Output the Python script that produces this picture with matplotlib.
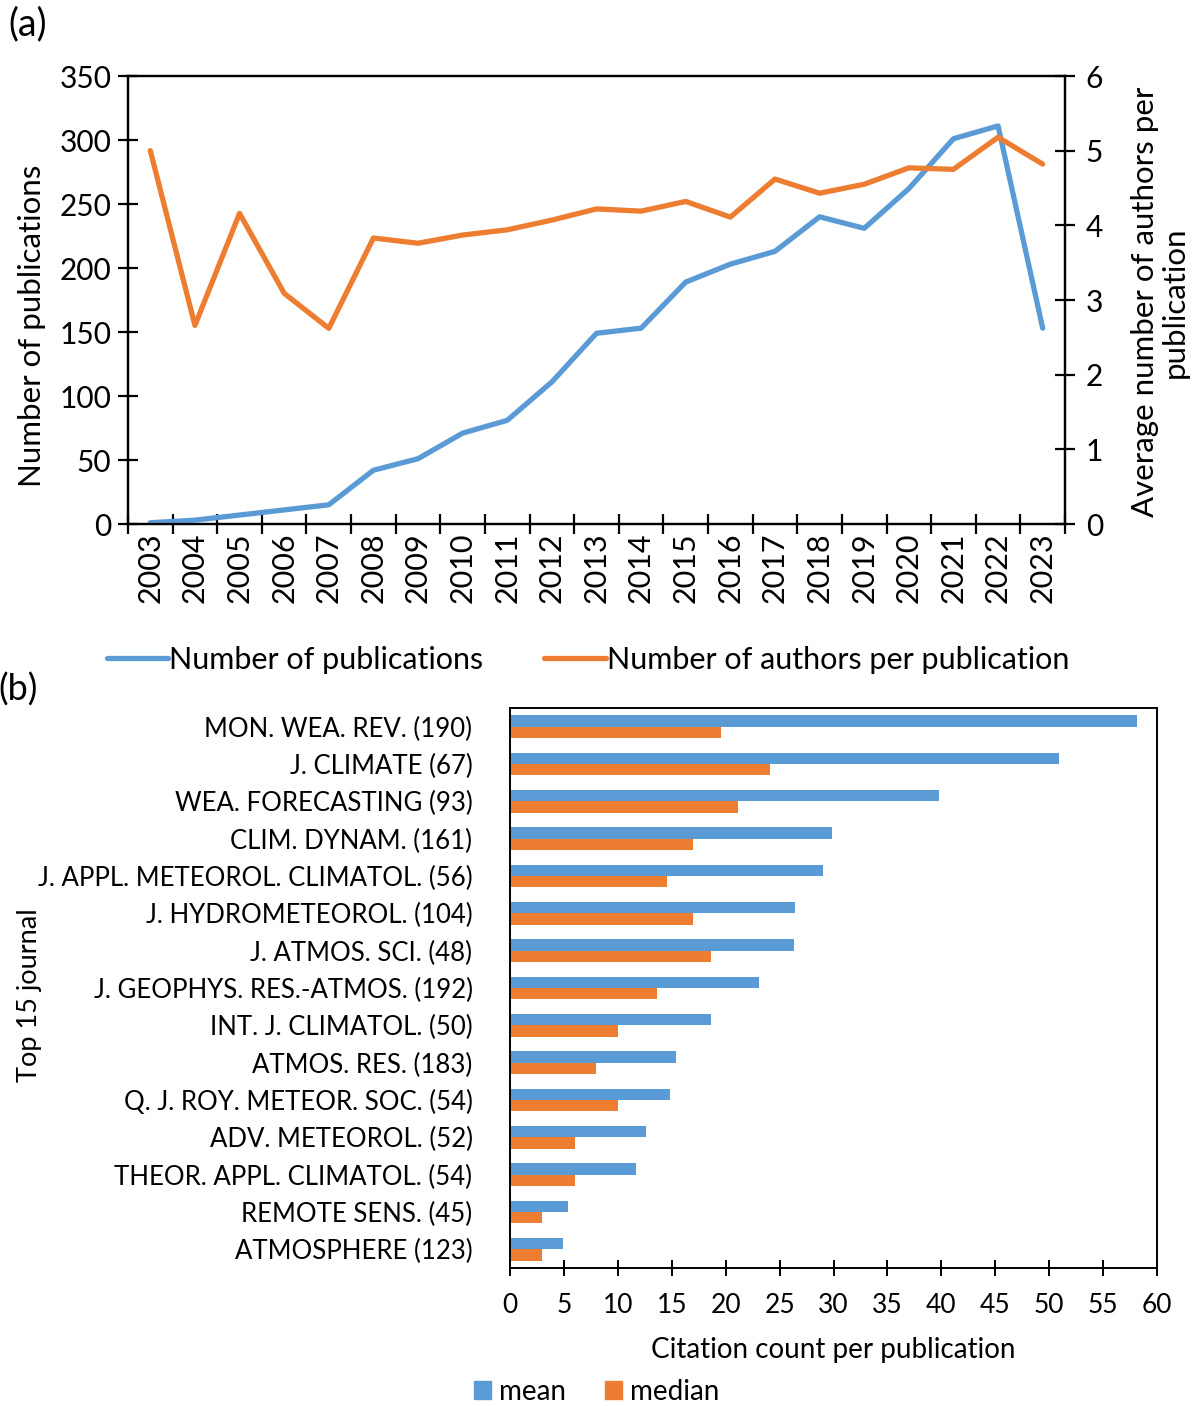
import matplotlib
matplotlib.use("Agg")
import matplotlib.pyplot as plt
from matplotlib.lines import Line2D
from matplotlib.patches import Patch
import numpy as np

plt.rcParams['font.family'] = ['Lato', 'DejaVu Sans']

# ---------------- data ----------------
years = [str(y) for y in range(2003, 2024)]
n_publications = [1, 3, 7, 11, 15, 42, 51, 71, 81, 111, 149, 153, 189, 203, 213,
                  240, 231, 262, 301, 311, 153]
authors_per_pub = [5.0, 2.66, 4.16, 3.09, 2.62, 3.83, 3.76, 3.87, 3.94, 4.07, 4.22,
                   4.19, 4.32, 4.11, 4.62, 4.43, 4.55, 4.77, 4.75, 5.18, 4.82]

journals = ["MON. WEA. REV. (190)", "J. CLIMATE (67)", "WEA. FORECASTING (93)",
            "CLIM. DYNAM. (161)", "J. APPL. METEOROL. CLIMATOL. (56)",
            "J. HYDROMETEOROL. (104)", "J. ATMOS. SCI. (48)",
            "J. GEOPHYS. RES.-ATMOS. (192)", "INT. J. CLIMATOL. (50)",
            "ATMOS. RES. (183)", "Q. J. ROY. METEOR. SOC. (54)",
            "ADV. METEOROL. (52)", "THEOR. APPL. CLIMATOL. (54)",
            "REMOTE SENS. (45)", "ATMOSPHERE (123)"]
cit_mean = [58.1, 50.9, 39.8, 29.9, 29.0, 26.4, 26.3, 23.1, 18.6, 15.4, 14.8,
            12.6, 11.7, 5.4, 4.9]
cit_median = [19.6, 24.1, 21.1, 17.0, 14.6, 17.0, 18.6, 13.6, 10.0, 8.0, 10.0,
              6.0, 6.0, 3.0, 3.0]

BLUE = "#5B9BD5"
ORANGE = "#ED7D31"
W, H = 1195, 1406

fig = plt.figure(figsize=(W / 100, H / 100), dpi=100)

def frac(l, t, r, b):
    return [l / W, 1 - b / H, (r - l) / W, (b - t) / H]

def fx(px):
    return px / W

def fy(py):
    return 1 - py / H

# ---------------- panel (a) ----------------
ax = fig.add_axes(frac(128, 76, 1065, 524))
ax2 = ax.twinx()
x = np.arange(len(years))
ax.plot(x, n_publications, color=BLUE, lw=3.8, solid_capstyle='round', zorder=3)
ax2.plot(x, authors_per_pub, color=ORANGE, lw=3.8, solid_capstyle='round', zorder=3)

ax.set_xlim(-0.5, len(years) - 0.5)
ax.set_ylim(0, 350)
ax.set_yticks(np.arange(0, 351, 50))
ax2.set_ylim(0, 6)
ax2.set_yticks(np.arange(0, 7, 1))
ax.set_xticks(x)
ax.set_xticklabels(years, rotation=90, fontsize=22)
ax.set_xticks(np.arange(-0.5, len(years), 1), minor=True)
ax.tick_params(axis='x', which='major', length=0, pad=6)
ax.tick_params(axis='x', which='minor', direction='inout', length=14, width=1.6)
ax.tick_params(axis='y', direction='inout', length=14, width=1.6, labelsize=21.5, pad=5)
ax2.tick_params(axis='y', direction='inout', length=14, width=1.6, labelsize=21.5, pad=8)
for a in (ax, ax2):
    for s in a.spines.values():
        s.set_linewidth(1.6)

fig.text(fx(32), fy(326), "Number of publications", fontsize=22.5, rotation=90,
         ha='center', va='center')
fig.text(fx(1160), fy(302), "Average number of authors per\npublication",
         fontsize=22.5, rotation=90, ha='center', va='center', linespacing=1.05,
         multialignment='center')

fig.text(fx(8), fy(24), "(a)", fontsize=27, va='center', ha='left')
fig.text(fx(-2), fy(690), "(b)", fontsize=26, va='center', ha='left')

handles_a = [Line2D([], [], color=BLUE, lw=3.8, solid_capstyle='round'),
             Line2D([], [], color=ORANGE, lw=3.8, solid_capstyle='round')]
fig.legend(handles_a, ["Number of publications", "Number of authors per publication"],
           loc='center', bbox_to_anchor=(fx(588), fy(660)), ncol=2,
           frameon=False, fontsize=22, handlelength=2.0, handletextpad=0.05,
           columnspacing=2.0)

# ---------------- panel (b) ----------------
bx = fig.add_axes(frac(510, 708, 1157, 1268))
y = np.arange(len(journals))
hgt = 0.3
bx.barh(y - hgt / 2, cit_mean, height=hgt, color=BLUE, zorder=2)
bx.barh(y + hgt / 2, cit_median, height=hgt, color=ORANGE, zorder=2)
bx.set_ylim(len(journals) - 0.5, -0.5)
bx.set_xlim(0, 60)
bx.set_xticks(np.arange(0, 61, 5))
bx.set_yticks(y)
bx.set_yticklabels(journals, fontsize=18.5)
bx.tick_params(axis='y', length=0, pad=27)
bx.tick_params(axis='x', direction='inout', length=12, width=1.4, labelsize=19, pad=12)
for s in bx.spines.values():
    s.set_linewidth(1.4)
fig.text(fx(833), fy(1350), "Citation count per publication", fontsize=20,
         ha='center', va='center')
fig.text(fx(30), fy(995), "Top 15 journal", fontsize=19.5, rotation=90,
         va='center', ha='center')

handles_b = [Patch(color=BLUE), Patch(color=ORANGE)]
fig.legend(handles_b, ["mean", "median"], loc='center',
           bbox_to_anchor=(fx(597), fy(1392)), ncol=2, frameon=False,
           fontsize=20, handlelength=0.6, handleheight=0.6, handletextpad=0.3,
           columnspacing=1.4)

fig.savefig("out.png", dpi=100)
